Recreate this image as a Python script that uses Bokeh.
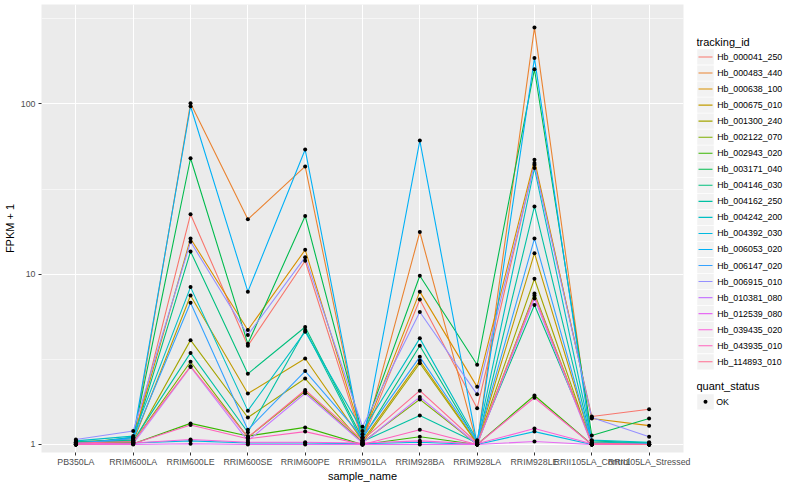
from bokeh.plotting import figure
from bokeh.models import Range1d, FixedTicker, PrintfTickFormatter
from bokeh.layouts import row
from bokeh.embed import file_html
from bokeh.resources import INLINE
from bokeh.core.properties import value

samples = ["PB350LA", "RRIM600LA", "RRIM600LE", "RRIM600SE", "RRIM600PE", "RRIM901LA",
           "RRIM928BA", "RRIM928LA", "RRIM928LE", "RRII105LA_Control", "RRII105LA_Stressed"]

tracking_ids = ["Hb_000041_250", "Hb_000483_440", "Hb_000638_100", "Hb_000675_010",
                "Hb_001300_240", "Hb_002122_070", "Hb_002943_020", "Hb_003171_040",
                "Hb_004146_030", "Hb_004162_250", "Hb_004242_200", "Hb_004392_030",
                "Hb_006053_020", "Hb_006147_020", "Hb_006915_010", "Hb_010381_080",
                "Hb_012539_080", "Hb_039435_020", "Hb_043935_010", "Hb_114893_010"]

hb_000041_250 = [1.02, 1.05, 22.5, 3.8, 12.0, 1.05, 7.1, 1.63, 45.0, 1.46, 1.61]
hb_000483_440 = [1.00, 1.03, 101, 21.0, 43.0, 1.00, 17.7, 1.00, 281, 1.00, 1.00]
hb_000638_100 = [1.03, 1.08, 16.2, 4.7, 13.9, 1.10, 7.9, 2.18, 47.0, 1.42, 1.29]
hb_000675_010 = [1.01, 1.04, 7.5, 1.99, 3.2, 1.05, 3.1, 1.02, 13.3, 1.02, 1.01]
hb_001300_240 = [1.00, 1.02, 4.1, 1.44, 2.44, 1.02, 3.0, 1.01, 9.4, 1.00, 1.00]
hb_002122_070 = [1.02, 1.03, 3.06, 1.10, 2.05, 1.03, 1.84, 1.00, 7.7, 1.01, 1.00]
hb_002943_020 = [1.00, 1.01, 1.33, 1.12, 1.26, 1.00, 1.11, 1.00, 1.94, 1.00, 1.00]
hb_003171_040 = [1.01, 1.10, 48.0, 3.9, 22.0, 1.15, 9.8, 2.94, 160, 1.13, 1.42]
hb_004146_030 = [1.04, 1.06, 13.6, 2.6, 4.9, 1.08, 3.8, 1.03, 6.6, 1.05, 1.02]
hb_004162_250 = [1.03, 1.05, 3.45, 1.18, 4.7, 1.04, 1.48, 1.02, 25.0, 1.03, 1.02]
hb_004242_200 = [1.05, 1.12, 8.4, 1.58, 4.6, 1.20, 4.2, 1.06, 42.0, 1.06, 1.03]
hb_004392_030 = [1.00, 1.02, 1.05, 1.02, 1.02, 1.01, 1.03, 1.00, 1.19, 1.00, 1.00]
hb_006053_020 = [1.00, 1.10, 97.0, 7.9, 54.0, 1.00, 61.0, 1.00, 186, 1.00, 1.00]
hb_006147_020 = [1.02, 1.08, 6.8, 1.22, 2.7, 1.10, 3.27, 1.04, 16.2, 1.02, 1.01]
hb_006915_010 = [1.07, 1.20, 15.5, 4.4, 12.6, 1.27, 6.0, 1.97, 44.0, 1.44, 1.11]
hb_010381_080 = [1.00, 1.01, 2.85, 1.05, 2.00, 1.02, 1.90, 1.00, 7.2, 1.00, 1.00]
hb_012539_080 = [1.00, 1.00, 1.01, 1.00, 1.00, 1.00, 1.00, 1.00, 1.04, 1.00, 1.00]
hb_039435_020 = [1.01, 1.02, 1.07, 1.03, 1.03, 1.02, 1.05, 1.01, 1.24, 1.01, 1.00]
hb_043935_010 = [1.00, 1.01, 1.30, 1.08, 1.19, 1.00, 1.22, 1.00, 1.88, 1.00, 1.00]
hb_114893_010 = [1.02, 1.04, 2.88, 1.10, 2.09, 1.06, 2.07, 1.02, 7.5, 1.02, 1.00]

series = [hb_000041_250, hb_000483_440, hb_000638_100, hb_000675_010, hb_001300_240,
          hb_002122_070, hb_002943_020, hb_003171_040, hb_004146_030, hb_004162_250,
          hb_004242_200, hb_004392_030, hb_006053_020, hb_006147_020, hb_006915_010,
          hb_010381_080, hb_012539_080, hb_039435_020, hb_043935_010, hb_114893_010]

colors = ["#F8766D", "#EA8331", "#D89000", "#C09B00", "#A3A500", "#7CAE00", "#39B600",
          "#00BB4E", "#00BF7D", "#00C1A3", "#00BFC4", "#00BAE0", "#00B0F6", "#35A2FF",
          "#9590FF", "#C77CFF", "#E76BF3", "#FA62DB", "#FF62BC", "#FF6C91"]

quant_status = ["OK"]

FONT = "Liberation Sans"
xs = list(range(len(samples)))

p = figure(width=696, height=484, y_axis_type="log",
           x_range=Range1d(-0.6, len(samples) - 0.4), y_range=Range1d(0.897, 384),
           output_backend="svg", toolbar_location=None,
           min_border_left=40, min_border_right=13, min_border_top=4, min_border_bottom=28)
p.background_fill_color = "#EBEBEB"
p.border_fill_color = "white"
p.outline_line_color = None

p.xaxis.ticker = FixedTicker(ticks=xs)
p.xaxis.major_label_overrides = {i: s for i, s in enumerate(samples)}
p.yaxis.ticker = FixedTicker(ticks=[1, 10, 100], minor_ticks=[0.3162, 3.162, 31.62, 316.2])
p.yaxis.formatter = PrintfTickFormatter(format="%d")

for ax in (p.xaxis, p.yaxis):
    ax.axis_line_color = None
    ax.major_tick_line_color = "#333333"
    ax.major_tick_out = 3
    ax.major_tick_in = 0
    ax.minor_tick_line_color = None
    ax.major_label_text_font = FONT
    ax.major_label_text_font_size = "8.8px"
    ax.major_label_text_color = "#4D4D4D"
    ax.axis_label_text_font = FONT
    ax.axis_label_text_font_size = "11px"
    ax.axis_label_text_font_style = "normal"
    ax.axis_label_text_color = "black"
p.xaxis.major_label_standoff = 1
p.xaxis.axis_label_standoff = 0
p.yaxis.major_label_standoff = 2
p.yaxis.axis_label_standoff = 2
p.xaxis.axis_label = "sample_name"
p.yaxis.axis_label = "FPKM + 1"

p.xgrid.grid_line_color = "white"
p.xgrid.grid_line_width = 1.1
p.ygrid.grid_line_color = "white"
p.ygrid.grid_line_width = 1.1
p.ygrid.minor_grid_line_color = "white"
p.ygrid.minor_grid_line_width = 0.55

for vals, c in zip(series, colors):
    p.line(x=xs, y=vals, line_color=c, line_width=1.1)

all_x = [x for vals in series for x in xs]
all_y = [v for vals in series for v in vals]
p.scatter(x=all_x, y=all_y, marker="circle", size=4, fill_color="black", line_color=None)

# legend panel
lg = figure(width=88, height=484, x_range=Range1d(0, 88), y_range=Range1d(484, 0),
            output_backend="svg", toolbar_location=None,
            x_axis_location=None, y_axis_location=None, min_border=0)
lg.outline_line_color = None
lg.xgrid.visible = False
lg.ygrid.visible = False
lg.background_fill_color = "white"

step = 17.33
centers = [56.7 + i * step for i in range(len(tracking_ids))]
lg.text(x=[0], y=[40.7], text=["tracking_id"], text_font=value(FONT), text_font_size="11px",
        text_baseline="middle", text_align="left", text_color="black")
lg.rect(x=[9] * len(centers), y=centers, width=16.5, height=16.5,
        fill_color="#F2F2F2", line_color=None)
lg.segment(x0=[2] * len(centers), x1=[16] * len(centers), y0=centers, y1=centers,
           line_color=colors, line_width=1.1)
lg.text(x=[20.7] * len(centers), y=centers, text=tracking_ids, text_font=value(FONT),
        text_font_size="8.8px", text_baseline="middle", text_align="left", text_color="black")

lg.text(x=[0], y=[412.3], text=["quant_status"], text_font=value(FONT), text_font_size="11px",
        text_baseline="middle", text_align="left", text_color="black")
lg.rect(x=[9], y=[429.3], width=16.5, height=16.5, fill_color="#F2F2F2", line_color=None)
lg.scatter(x=[9], y=[429.3], marker="circle", size=4, fill_color="black", line_color=None)
lg.text(x=[19.7], y=[429.3], text=quant_status, text_font=value(FONT),
        text_font_size="8.8px", text_baseline="middle", text_align="left", text_color="black")

layout = row(p, lg)
open("out.html", "w").write(file_html(layout, INLINE))
